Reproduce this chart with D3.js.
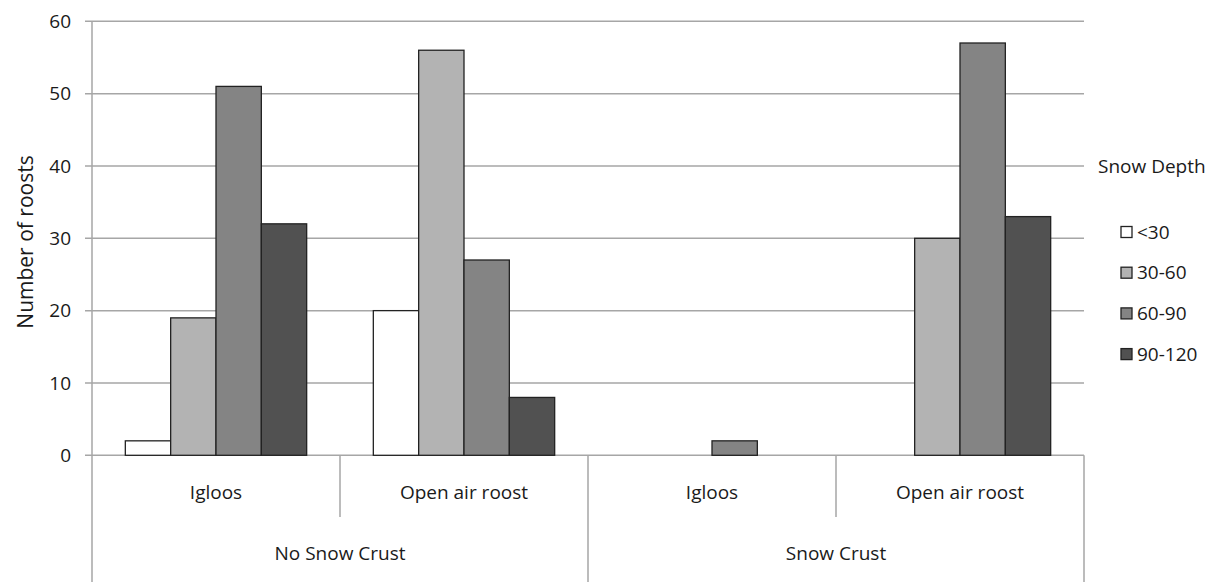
<!DOCTYPE html>
<html><head><meta charset="utf-8">
<script src="https://cdn.jsdelivr.net/npm/d3@7"></script>
<style>body{margin:0;background:#fff}svg{display:block}text{font-family:"Open Sans",sans-serif;fill:#1a1a1a}</style>
</head><body><svg id="c" width="1218" height="582"></svg>
<script>
const outerGroups = ["No Snow Crust", "Snow Crust"];
const innerGroups = ["Igloos", "Open air roost"];
const series = ["<30", "30-60", "60-90", "90-120"];
const colors = ["#ffffff", "#b3b3b3", "#848484", "#515151"];
const values = [
  [2, 19, 51, 32],
  [20, 56, 27, 8],
  [0, 0, 2, 0],
  [0, 30, 57, 33]
];
const yTicks = [0, 10, 20, 30, 40, 50, 60];
const legendTitle = "Snow Depth";
const yTitle = "Number of roosts";

const svg = d3.select("#c");
const L = 92, R = 1084, T = 21.3, B = 455.3;
const cats = [];
outerGroups.forEach(o => innerGroups.forEach(i => cats.push(o + "|" + i)));
const x0 = d3.scaleBand().domain(cats).range([L, R]).paddingInner(0).paddingOuter(0);
const x1 = d3.scaleBand().domain(series).range([0, x0.bandwidth()]).paddingOuter(0.735).paddingInner(0);
const y = d3.scaleLinear().domain([0, 60]).range([B, T]);

svg.append("g").selectAll("line").data(yTicks).join("line")
  .attr("x1", L - 7).attr("x2", R).attr("y1", d => y(d)).attr("y2", d => y(d))
  .attr("stroke", "#a6a6a6").attr("stroke-width", 1.5);
svg.append("g").selectAll("text").data(yTicks).join("text")
  .attr("x", 71).attr("y", d => y(d)).attr("dy", "0.35em").attr("text-anchor", "end")
  .attr("font-size", 19).text(d => d);
svg.append("line").attr("x1", L).attr("x2", L).attr("y1", T).attr("y2", 582)
  .attr("stroke", "#a6a6a6").attr("stroke-width", 1.5);

const g = svg.append("g");
values.forEach((vals, ci) => {
  g.append("g").attr("transform", `translate(${x0(cats[ci])},0)`)
    .selectAll("rect").data(vals.map((v, si) => ({v, si}))).join("rect")
    .filter(d => d.v > 0)
    .attr("x", d => x1(series[d.si])).attr("width", x1.bandwidth())
    .attr("y", d => y(d.v)).attr("height", d => y(0) - y(d.v))
    .attr("fill", d => colors[d.si]).attr("stroke", "#222").attr("stroke-width", 1.3);
});

cats.forEach((c, i) => {
  const xe = x0(c) + x0.bandwidth();
  const full = (i % innerGroups.length === innerGroups.length - 1);
  svg.append("line").attr("x1", xe).attr("x2", xe).attr("y1", B).attr("y2", full ? 582 : 517)
    .attr("stroke", "#a6a6a6").attr("stroke-width", 1.5);
  svg.append("text").attr("x", x0(c) + x0.bandwidth() / 2).attr("y", 492).attr("dy", "0.35em")
    .attr("text-anchor", "middle").attr("font-size", 19).text(c.split("|")[1]);
});
outerGroups.forEach((o, oi) => {
  const a = x0(o + "|" + innerGroups[0]);
  const b = x0(o + "|" + innerGroups[innerGroups.length - 1]) + x0.bandwidth();
  svg.append("text").attr("x", (a + b) / 2).attr("y", 553).attr("dy", "0.35em")
    .attr("text-anchor", "middle").attr("font-size", 19).text(o);
});

svg.append("text").attr("transform", `translate(26,242) rotate(-90)`).attr("dy", "0.35em")
  .attr("text-anchor", "middle").attr("font-size", 21).text(yTitle);

svg.append("text").attr("x", 1098).attr("y", 166).attr("dy", "0.35em").attr("font-size", 19).text(legendTitle);
const lg = svg.append("g").selectAll("g").data(series).join("g")
  .attr("transform", (d, i) => `translate(1121,${232 + i * 40.7})`);
lg.append("rect").attr("x", 0).attr("y", -5.5).attr("width", 11).attr("height", 11)
  .attr("fill", (d, i) => colors[i]).attr("stroke", "#222").attr("stroke-width", 1.3);
lg.append("text").attr("x", 16).attr("y", 0).attr("dy", "0.35em").attr("font-size", 19).text(d => d);
</script></body></html>
